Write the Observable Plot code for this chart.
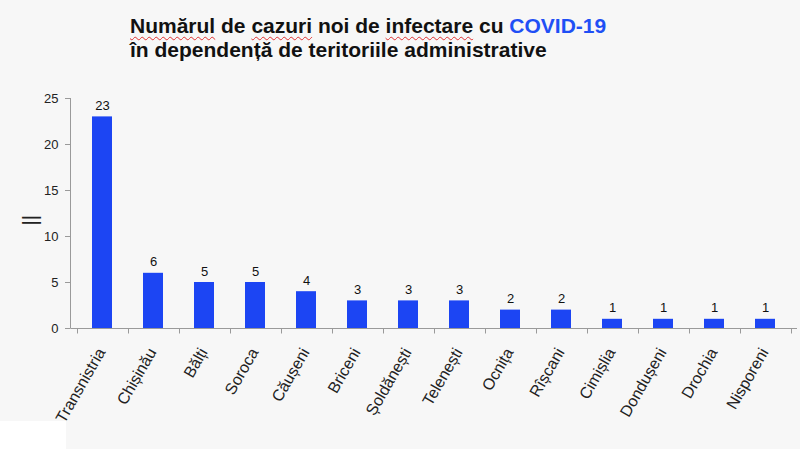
<!DOCTYPE html>
<html><head><meta charset="utf-8">
<script src="https://cdn.jsdelivr.net/npm/d3@7"></script>
<script src="https://cdn.jsdelivr.net/npm/@observablehq/plot@0.6"></script>
<style>
body{margin:0;background:#f7f7f7;width:800px;height:449px;overflow:hidden;position:relative;font-family:"Liberation Sans",Arial,sans-serif}
#title{height:70px;box-sizing:border-box;padding:14px 0 0 130px;font-weight:bold;font-size:21px;line-height:24px;color:#111;white-space:nowrap}
.sq{text-decoration:underline wavy #e03030;text-decoration-thickness:1px;text-underline-offset:3px}
.blue{color:#1f4ff5}
#chart{position:relative;z-index:1}
#chart svg{display:block;background:transparent}
#patch{position:absolute;left:0;top:421px;width:66px;height:28px;background:#fff;z-index:0}
</style></head><body>
<div id="title"><span class="sq">Numărul</span> de <span class="sq">cazuri</span> noi de <span class="sq">infectare</span> cu <span class="blue">COVID-19</span><br>în dependență de teritoriile administrative</div>
<div id="patch"></div>
<div id="chart"></div>
<script>
const regions = ["Transnistria","Chișinău","Bălți","Soroca","Căușeni","Briceni","Șoldănești","Telenești","Ocnița","Rîșcani","Cimișlia","Dondușeni","Drochia","Nisporeni"];
const cases = [23,6,5,5,4,3,3,3,2,2,1,1,1,1];
const yTicks = [0,5,10,15,20,25];
const yLabel = "||";

const data = regions.map((r,i)=>({region:r, value:cases[i]}));

const axisLines = (index, scales, values, dims) => {
  const x = scales.x, y = scales.y;
  const g = d3.create("svg:g").attr("stroke","#9a9a9a").attr("fill","none").attr("stroke-width",1);
  const y0 = Math.round(y(0)) + 0.5;
  const xl = dims.marginLeft + 0.5;
  g.append("line").attr("x1",xl).attr("x2",dims.width-dims.marginRight).attr("y1",y0).attr("y2",y0);
  g.append("line").attr("x1",xl).attr("x2",xl).attr("y1",y(yTicks[yTicks.length-1])).attr("y2",y0);
  const step = x.step();
  const bounds = regions.map(r => x(r) + x.bandwidth()/2 - step/2);
  bounds.push(x(regions[regions.length-1]) + x.bandwidth()/2 + step/2);
  bounds.forEach(b => {
    const bx = Math.round(b) + 0.5;
    g.append("line").attr("x1",bx).attr("x2",bx).attr("y1",y0).attr("y2",y0+5);
  });
  return g.node();
};

const chart = Plot.plot({
  width: 800,
  height: 379,
  marginTop: 28,
  marginBottom: 121,
  marginLeft: 70,
  marginRight: 3,
  style: {fontFamily: '"Liberation Sans", Arial, sans-serif', background: "transparent"},
  x: {domain: regions, paddingInner: 0.6, paddingOuter: 0.3, axis: null},
  y: {domain: [0, 25]},
  marks: [
    Plot.barY(data, {x: "region", y: "value", fill: "#1c45f3"}),
    axisLines,
    Plot.axisY(yTicks, {tickSize: 5, tickPadding: 7, stroke: "#9a9a9a", fill: "#222", fontSize: 13, label: null}),
    Plot.text([yLabel], {frameAnchor: "left", dx: -40, dy: 12, rotate: -90, fontSize: 20, fill: "#222"}),
    Plot.text(data, {x: "region", y: "value", text: d => String(d.value), dy: -11, fontSize: 13, fill: "#111"}),
    Plot.text(regions, {x: d => d, y: () => 0, text: d => d, rotate: -60, textAnchor: "end", lineAnchor: "middle", dx: -1, dy: 21, fontSize: 16, fill: "#222"})
  ]
});
document.getElementById("chart").appendChild(chart);
</script>
</body></html>
